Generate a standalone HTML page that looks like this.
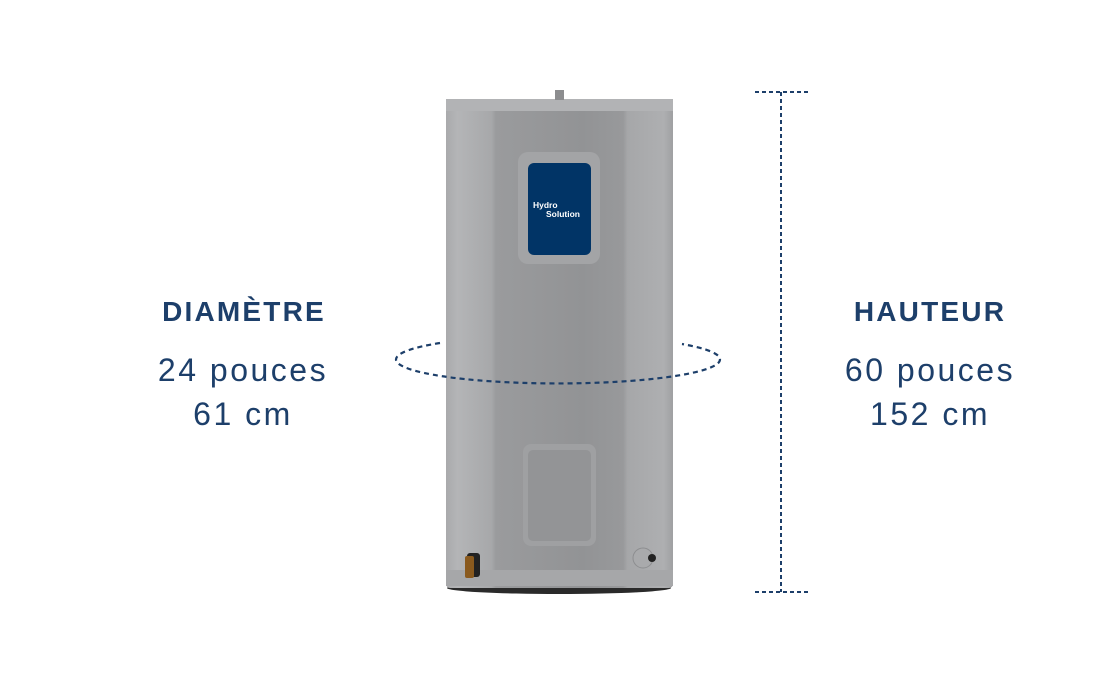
<!DOCTYPE html>
<html><head><meta charset="utf-8"><style>
html,body{margin:0;padding:0;background:#fff;}
body{width:1120px;height:700px;position:relative;overflow:hidden;font-family:"Liberation Sans",sans-serif;color:#1d3f6a;}
.t{position:absolute;text-align:center;width:300px;}
.h{font-weight:bold;font-size:28px;letter-spacing:2.2px;}
.v{font-size:32px;line-height:44px;letter-spacing:2.5px;}
</style></head><body>
<svg width="1120" height="700" style="position:absolute;left:0;top:0">
<defs>
<linearGradient id="g" x1="0" x2="1" y1="0" y2="0">
<stop offset="0" stop-color="#a9aaac"/><stop offset="0.05" stop-color="#b4b5b7"/>
<stop offset="0.2" stop-color="#a7a8aa"/><stop offset="0.22" stop-color="#9a9b9d"/>
<stop offset="0.6" stop-color="#929395"/><stop offset="0.78" stop-color="#98999b"/>
<stop offset="0.8" stop-color="#a6a7a9"/><stop offset="0.96" stop-color="#aeafb1"/>
<stop offset="1" stop-color="#9fa0a2"/></linearGradient>
</defs>
<ellipse cx="559" cy="588" rx="112" ry="6" fill="#2a2a2a"/>
<rect x="446" y="99" width="227" height="489" rx="4" fill="url(#g)"/>
<rect x="446" y="99" width="227" height="12" fill="#b2b3b5"/>
<rect x="446" y="570" width="227" height="16" fill="#a6a7a9"/>
<rect x="555" y="90" width="9" height="10" fill="#8c8d8f"/>
<rect x="518" y="152" width="82" height="112" rx="10" fill="#a3a4a6"/>
<rect x="528" y="163" width="63" height="92" rx="6" fill="#013466"/>
<text x="533" y="208" fill="#fff" font-size="8.5" font-weight="bold" font-family="Liberation Sans,sans-serif">Hydro</text>
<text x="546" y="217" fill="#fff" font-size="8.5" font-weight="bold" font-family="Liberation Sans,sans-serif">Solution</text>
<rect x="523" y="444" width="73" height="102" rx="8" fill="#9fa0a2"/>
<rect x="528" y="450" width="63" height="91" rx="5" fill="#939496"/>
<rect x="467" y="553" width="13" height="24" rx="3" fill="#222"/>
<rect x="465" y="556" width="9" height="22" rx="2" fill="#8a5a1e"/>
<circle cx="643" cy="558" r="10" fill="#a9aaac" stroke="#8d8e90"/>
<circle cx="652" cy="558" r="4" fill="#222"/>
<path d="M440 343 A162 24 0 1 0 682 344" fill="none" stroke="#1d3f6a" stroke-width="2.2" stroke-dasharray="5 4"/>
<line x1="781" y1="92" x2="781" y2="592" stroke="#1d3f6a" stroke-width="2" stroke-dasharray="4 3"/>
<line x1="755" y1="92" x2="808" y2="92" stroke="#1d3f6a" stroke-width="2" stroke-dasharray="4 3"/>
<line x1="755" y1="592" x2="808" y2="592" stroke="#1d3f6a" stroke-width="2" stroke-dasharray="4 3"/>
</svg>
<div class="t h" style="left:94px;top:296px">DIAMÈTRE</div>
<div class="t v" style="left:93px;top:348px">24 pouces<br>61 cm</div>
<div class="t h" style="left:780px;top:296px">HAUTEUR</div>
<div class="t v" style="left:780px;top:348px">60 pouces<br>152 cm</div>
</body></html>
